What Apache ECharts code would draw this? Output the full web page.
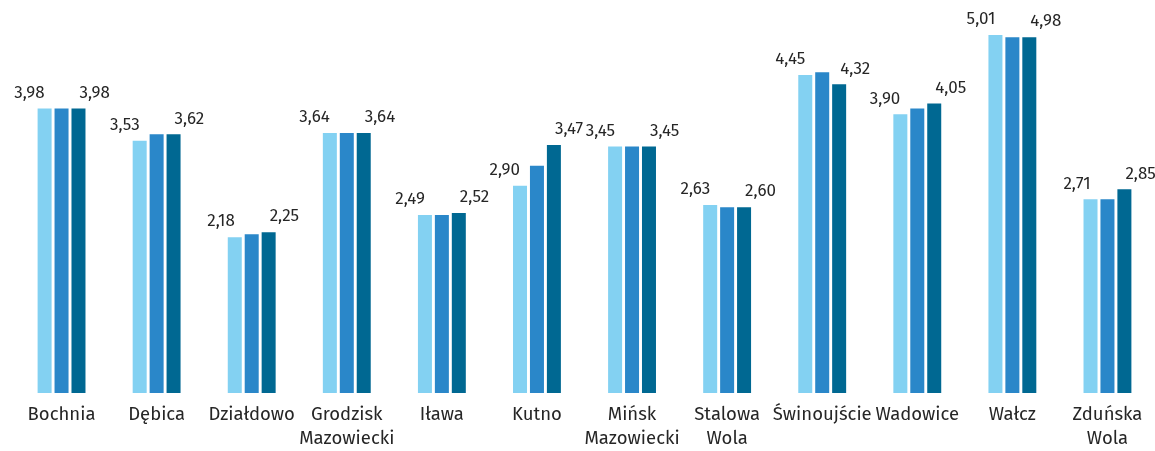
<!DOCTYPE html>
<html>
<head>
<meta charset="utf-8">
<script src="https://cdn.jsdelivr.net/npm/echarts@6/dist/echarts.min.js"></script>
<style>
  html, body { margin: 0; padding: 0; background: #fff; }
  #chart { width: 1155px; height: 451px; }
</style>
</head>
<body>
<div id="chart"></div>
<script>
// Towns shown along the category axis
const towns = [
  'Bochnia', 'Dębica', 'Działdowo', 'Grodzisk\nMazowiecki', 'Iława', 'Kutno',
  'Mińsk\nMazowiecki', 'Stalowa\nWola', 'Świnoujście', 'Wadowice', 'Wałcz', 'Zduńska\nWola'
];

// Three series per town (first and last carry value labels)
const seriesA = [3.98, 3.53, 2.18, 3.64, 2.49, 2.90, 3.45, 2.63, 4.45, 3.90, 5.01, 2.71];
const seriesB = [3.98, 3.62, 2.22, 3.64, 2.49, 3.18, 3.45, 2.60, 4.49, 3.98, 4.98, 2.71];
const seriesC = [3.98, 3.62, 2.25, 3.64, 2.52, 3.47, 3.45, 2.60, 4.32, 4.05, 4.98, 2.85];

const colors = ['#83D1F2', '#2A87C9', '#006892'];
const fontFamily = '"Fira Sans", "Noto Sans", "DejaVu Sans", sans-serif';

const fmt = p => p.value.toFixed(2).replace('.', ',');

const chart = echarts.init(document.getElementById('chart'));
chart.setOption({
  animation: false,
  grid: { left: 14, right: -4, top: 0, bottom: 53, containLabel: false },
  xAxis: {
    type: 'category',
    data: towns,
    axisLine: { show: false },
    axisTick: { show: false },
    axisLabel: {
      interval: 0,
      margin: 10,
      color: '#262626',
      fontSize: 18.5,
      lineHeight: 24,
      fontFamily: fontFamily
    }
  },
  yAxis: {
    type: 'value',
    min: 0,
    max: 5.5,
    show: false,
    splitLine: { show: false }
  },
  series: [
    {
      type: 'bar', data: seriesA, barWidth: 14, barGap: '21%',
      itemStyle: { color: colors[0] },
      label: {
        show: true, position: 'top', distance: 7, align: 'right', offset: [0, 0],
        formatter: fmt, color: '#262626', fontSize: 17, fontFamily: fontFamily
      }
    },
    {
      type: 'bar', data: seriesB, barWidth: 14, barGap: '21%',
      itemStyle: { color: colors[1] }
    },
    {
      type: 'bar', data: seriesC, barWidth: 14, barGap: '21%',
      itemStyle: { color: colors[2] },
      label: {
        show: true, position: 'top', distance: 7, align: 'left', offset: [1, 0],
        formatter: fmt, color: '#262626', fontSize: 17, fontFamily: fontFamily
      }
    }
  ]
});
</script>
</body>
</html>
